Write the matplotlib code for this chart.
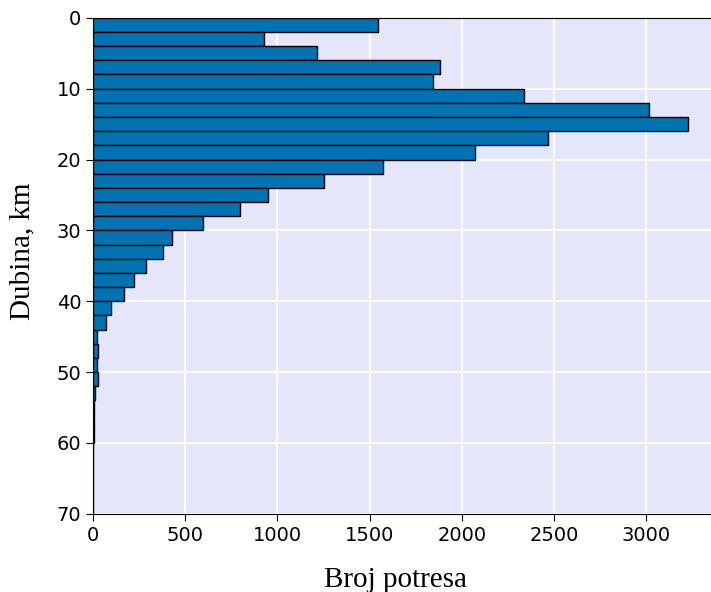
import matplotlib.pyplot as plt
import numpy as np

# depth bins (km), 2 km wide
bin_edges = np.arange(0, 72, 2)
counts = [1546, 926, 1217, 1881, 1845, 2335, 3015, 3226, 2465, 2073,
          1575, 1250, 951, 796, 595, 430, 378, 288, 219, 166,
          98, 71, 20, 29, 20, 29, 8, 6, 4, 3,
          1, 0, 0, 0, 0]
x_ticks = [0, 500, 1000, 1500, 2000, 2500, 3000]
y_ticks = [0, 10, 20, 30, 40, 50, 60, 70]

fig = plt.figure(figsize=(7.11, 5.92), dpi=100)
ax = fig.add_axes([0.131, 0.132, 0.8815, 0.838])
ax.set_facecolor('#E6E6FA')

ax.barh(bin_edges[:-1], counts, height=2, align='edge',
        color='#0173B2', edgecolor='black', linewidth=1)

ax.set_ylim(70, 0)
ax.set_xlim(0, 3400)
ax.set_xticks(x_ticks)
ax.set_yticks(y_ticks)
ax.tick_params(labelsize=14, length=5)
ax.grid(True, color='white', linewidth=1.3)
ax.set_axisbelow(True)

for s in ['left', 'bottom', 'top']:
    ax.spines[s].set_color('black')

ax.set_xlabel('Broj potresa', fontfamily='Liberation Serif', fontsize=21)
ax.set_ylabel('Dubina, km', fontfamily='Liberation Serif', fontsize=21)
ax.xaxis.set_label_coords(0.483, -0.108)
ax.yaxis.set_label_coords(-0.092, 0.53)

plt.savefig('out.png', dpi=100)
